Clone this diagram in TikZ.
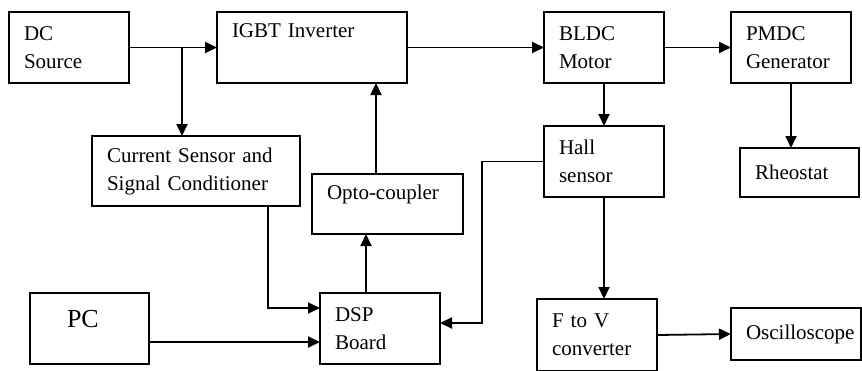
\documentclass[tikz,border=0pt]{standalone}
\usepackage{fontspec}
\setmainfont{Liberation Serif}
\usetikzlibrary{arrows.meta}
\begin{document}
\begin{tikzpicture}[x=1pt, y=-1pt, every node/.style={font=\fontsize{21}{28}\selectfont},
  block/.style={draw,line width=1.3pt,anchor=north west,outer sep=0pt,inner xsep=15pt,inner ysep=0pt,
    align=left,text width=90pt,minimum height=71pt},
  link/.style={line width=1.8pt,-{Triangle[length=12pt,width=11pt]}}]
  \useasboundingbox (0,0) rectangle (862,370);
  % row 1: source, inverter, motor, generator
  \node[block] (dc) at (9,12) {DC\\Source};
  \node[block,text width=160pt,text depth=34pt] (igbt) at (217,12) {IGBT Inverter};
  \node[block] (bldc) at (544,12) {BLDC\\Motor};
  \node[block] (pmdc) at (731,12) {PMDC\\Generator};
  % row 2: sensing and isolation
  \node[block,text width=178pt,minimum height=70pt] (cs) at (92,136) {Current Sensor and\\Signal Conditioner};
  \node[block,text width=121pt,minimum height=60pt,text depth=23pt] (opto) at (312,174) {Opto-coupler};
  \node[block] (hall) at (544,126) {Hall\\sensor};
  \node[block,text width=89pt,minimum height=49pt] (rheo) at (740,148) {Rheostat};
  % row 3: control and measurement
  \node[block,font=\fontsize{26}{30}\selectfont,inner xsep=37pt,text width=45pt,text depth=20pt] (pc) at (30,293) {PC};
  \node[block] (dsp) at (320,293) {DSP\\Board};
  \node[block,minimum height=72pt] (fv) at (537,299) {F to V\\converter};
  \node[block,text width=100pt,minimum height=52pt] (osc) at (731,308) {\mbox{Oscilloscope}};
  % bends and taps
  \coordinate (tap) at (182,46);
  \coordinate (optoup) at (376,0);
  \coordinate (dspup) at (366,0);
  \coordinate (csdown) at (268,308);
  \coordinate (pcin) at (0,342);
  \coordinate (hallback) at (482,323);
  % power path
  \draw[link] (dc.east) -- (igbt.west);
  \draw[link] (tap |- dc.east) -- (tap |- cs.north);
  \draw[link] (igbt.east) -- (bldc.west);
  \draw[link] (bldc.east) -- (pmdc.west);
  \draw[link] (pmdc.south) -- (pmdc.south |- rheo.north);
  % control loop
  \draw[link] (optoup |- opto.north) -- (optoup |- igbt.south);
  \draw[link] (dspup |- dsp.north) -- (dspup |- opto.south);
  \draw[link] (csdown |- cs.south) -- (csdown) -- (csdown -| dsp.west);
  \draw[link] (pcin -| pc.east) -- (pcin -| dsp.west);
  \draw[link] (bldc.south) -- (hall.north);
  \draw[link] (hall.west) -| (hallback) -- (hallback -| dsp.east);
  % speed display
  \draw[link] (hall.south) -- (hall.south |- fv.north);
  \draw[link] (fv.east) -- (osc.west);
\end{tikzpicture}
\end{document}
